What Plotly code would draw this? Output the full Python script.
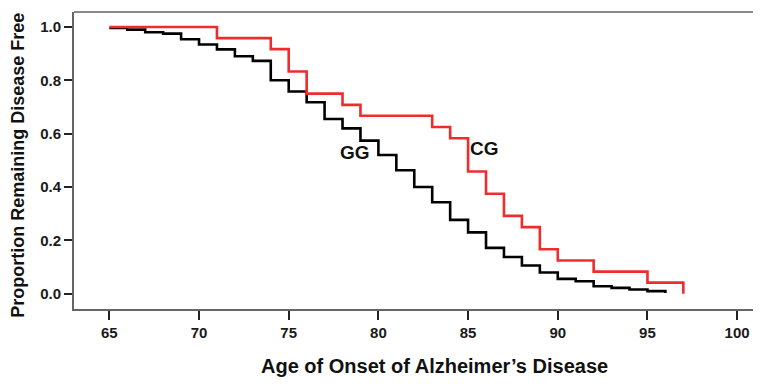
import plotly.graph_objects as go

# Kaplan-Meier style survival data
cg_age = [65, 71, 74, 75, 76, 78, 79, 83, 84, 85, 86, 87, 88, 89, 90, 92, 95, 97]
cg_surv = [1.0, 0.958, 0.917, 0.833, 0.75, 0.708, 0.667, 0.625, 0.583, 0.458,
           0.375, 0.292, 0.25, 0.167, 0.125, 0.083, 0.042, 0.0]

gg_age = [65, 66, 67, 68, 69, 70, 71, 72, 73, 74, 75, 76, 77, 78, 79, 80, 81, 82,
          83, 84, 85, 86, 87, 88, 89, 90, 91, 92, 93, 94, 95, 96]
gg_surv = [0.996, 0.99, 0.98, 0.975, 0.954, 0.934, 0.916, 0.89, 0.873, 0.80, 0.758,
           0.718, 0.655, 0.62, 0.574, 0.52, 0.463, 0.40, 0.343, 0.277, 0.23, 0.172,
           0.138, 0.106, 0.08, 0.056, 0.047, 0.028, 0.022, 0.016, 0.01, 0.003]

x_ticks = [65, 70, 75, 80, 85, 90, 95, 100]
y_ticks = [0.0, 0.2, 0.4, 0.6, 0.8, 1.0]
y_tick_labels = ["0.0", "0.2", "0.4", "0.6", "0.8", "1.0"]

FONT = "Liberation Sans"

fig = go.Figure()
fig.add_trace(go.Scatter(x=gg_age, y=gg_surv, mode="lines", line_shape="hv",
                         line=dict(color="#000000", width=2.6), name="GG"))
fig.add_trace(go.Scatter(x=cg_age, y=cg_surv, mode="lines", line_shape="hv",
                         line=dict(color="#ee2c2c", width=2.6), name="CG"))

# the page body has an 8px default margin, so the figure is sized to fit the window
fig.update_layout(
    width=753, height=380,
    margin=dict(l=66, r=0, t=4, b=79),
    paper_bgcolor="white", plot_bgcolor="white",
    showlegend=False,
    font=dict(family=FONT, color="#111111"),
)
fig.update_xaxes(
    range=[63.03, 101.33], tickvals=x_ticks, ticktext=[str(v) for v in x_ticks],
    showgrid=False, zeroline=False, showline=True, linecolor="#666666", linewidth=2,
    ticks="outside", ticklen=9, tickwidth=2, tickcolor="#222222",
    tickfont=dict(family=FONT, size=15, weight="bold", color="#1a1a1a"),
)
fig.update_yaxes(
    range=[-0.057, 1.056], tickvals=y_ticks, ticktext=y_tick_labels,
    showgrid=False, zeroline=False, showline=True, linecolor="#666666", linewidth=2,
    ticks="outside", ticklen=8, tickwidth=2, tickcolor="#222222",
    tickfont=dict(family=FONT, size=15, weight="bold", color="#1a1a1a"),
)

# top border line
fig.add_shape(type="line", xref="paper", yref="paper", x0=0, x1=1, y0=1, y1=1,
              line=dict(color="#8a8a8a", width=2))

# axis titles
fig.add_annotation(text="Age of Onset of Alzheimer\u2019s Disease", xref="paper", yref="paper",
                   x=(434.5 - 74) / 687, y=-(366 - 309.3) / 297.3, xanchor="center", yanchor="middle",
                   showarrow=False, font=dict(family=FONT, size=20, weight="bold", color="#111111"))
fig.add_annotation(text="Proportion Remaining Disease Free", xref="paper", yref="paper",
                   x=(18 - 74) / 687, y=(309.3 - 166) / 297.3, xanchor="center", yanchor="middle",
                   textangle=-90, showarrow=False,
                   font=dict(family=FONT, size=18, weight="bold", color="#111111"))

# curve labels
fig.add_annotation(text="GG", x=78.7, y=0.528, showarrow=False,
                   font=dict(family=FONT, size=19, weight="bold", color="#111111"))
fig.add_annotation(text="CG", x=85.94, y=0.543, showarrow=False,
                   font=dict(family=FONT, size=19, weight="bold", color="#111111"))

fig.write_html("out.html")
